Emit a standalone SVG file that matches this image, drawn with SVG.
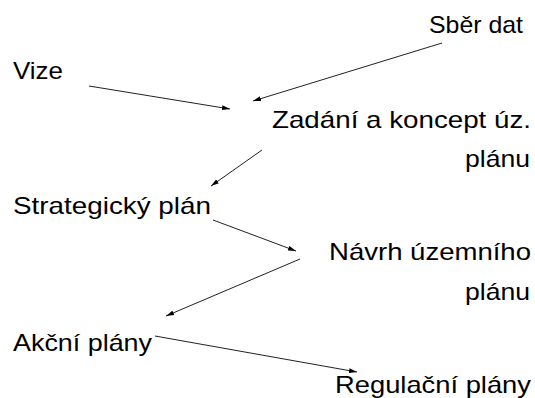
<svg xmlns="http://www.w3.org/2000/svg" width="535" height="398" viewBox="0 0 535 398">
<style>
text{font-family:"Liberation Sans",Arial,sans-serif;font-size:24px;fill:#000}
.c line{stroke:#222;stroke-width:1}
</style>
<defs>
<marker id="ah" viewBox="0 0 10 6" refX="10" refY="3" markerWidth="8" markerHeight="5" markerUnits="userSpaceOnUse" orient="auto">
<path d="M0,0 L10,3 L0,6 Z" fill="#000"/>
</marker>
</defs>
<rect width="535" height="398" fill="#fff"/>
<g id="sber"><text x="429" y="33" textLength="94" lengthAdjust="spacingAndGlyphs">Sběr dat</text></g>
<g id="vize"><text x="13" y="79" textLength="50" lengthAdjust="spacingAndGlyphs">Vize</text></g>
<g id="zadani"><text x="272" y="128" textLength="259" lengthAdjust="spacingAndGlyphs">Zadání a koncept úz.</text><text x="465" y="167" textLength="65" lengthAdjust="spacingAndGlyphs">plánu</text></g>
<g id="strategicky"><text x="13" y="214" textLength="198" lengthAdjust="spacingAndGlyphs">Strategický plán</text></g>
<g id="navrh"><text x="329" y="260" textLength="202" lengthAdjust="spacingAndGlyphs">Návrh územního</text><text x="465" y="300" textLength="65" lengthAdjust="spacingAndGlyphs">plánu</text></g>
<g id="akcni"><text x="13" y="351" textLength="139" lengthAdjust="spacingAndGlyphs">Akční plány</text></g>
<g id="regulacni"><text x="335" y="393" textLength="196" lengthAdjust="spacingAndGlyphs">Regulační plány</text></g>
<g class="c" id="connectors">
<line x1="89" y1="86" x2="230" y2="109" marker-end="url(#ah)"/>
<line x1="442" y1="43" x2="253" y2="101" marker-end="url(#ah)"/>
<line x1="262" y1="150" x2="211" y2="186" marker-end="url(#ah)"/>
<line x1="213" y1="220" x2="296" y2="251" marker-end="url(#ah)"/>
<line x1="300" y1="259" x2="166" y2="316" marker-end="url(#ah)"/>
<line x1="155" y1="336" x2="357" y2="372" marker-end="url(#ah)"/>
</g>
</svg>
